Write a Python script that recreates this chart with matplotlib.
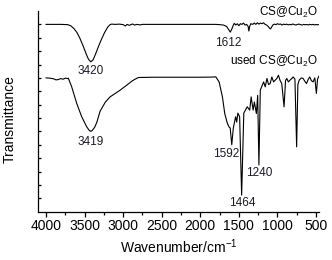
import matplotlib
matplotlib.use("Agg")
import matplotlib.pyplot as plt
from matplotlib.ticker import MultipleLocator, NullFormatter

plt.rcParams['font.family'] = ['Liberation Sans', 'DejaVu Sans']
plt.rcParams['mathtext.fontset'] = 'custom'
plt.rcParams['mathtext.rm'] = 'Liberation Sans'
plt.rcParams['mathtext.it'] = 'Liberation Sans'
plt.rcParams['mathtext.default'] = 'regular'

# CS@Cu2O spectrum (wavenumber, transmittance in arbitrary units)
cs_wn = [4000, 3800, 3720, 3680, 3640, 3600, 3560, 3520, 3480, 3450, 3420, 3390, 3360,
         3320, 3280, 3240, 3200, 3170, 3150, 3100, 3050, 3000, 2970, 2950, 2920, 2880,
         2850, 2820, 2780, 2750, 2600, 2400, 2200, 2000, 1800, 1750, 1700, 1660, 1630,
         1612, 1595, 1575, 1560, 1540, 1520, 1500, 1480, 1460, 1440, 1420, 1400, 1380,
         1370, 1360, 1345, 1320, 1300, 1280, 1260, 1240, 1220, 1200, 1180, 1160, 1140,
         1120, 1100, 1090, 1075, 1060, 1040, 1020, 1000, 980, 960, 940, 920, 900, 880,
         860, 840, 820, 800, 780, 760, 740, 720, 700, 680, 660, 640, 620, 600, 580, 560,
         540, 520, 500, 480, 462]
cs_t = [14.0, 14.0, 13.98, 13.9, 13.7, 13.4, 12.95, 12.4, 11.8, 11.4, 11.2, 11.35, 11.75,
        12.35, 12.9, 13.4, 13.8, 13.98, 14.02, 14.0, 14.02, 13.98, 13.88, 14.0, 13.93, 14.03,
        13.95, 14.0, 13.96, 14.0, 14.0, 14.0, 14.0, 14.0, 14.0, 13.98, 13.95, 13.85, 13.6,
        13.42, 13.6, 13.9, 14.08, 13.95, 14.05, 13.9, 14.05, 14.0, 14.1, 13.95, 14.0, 13.85,
        13.5, 13.85, 14.05, 14.0, 14.1, 14.0, 14.12, 14.02, 14.1, 14.05, 14.12, 14.0, 13.95,
        13.85, 13.7, 13.66, 13.8, 13.95, 14.02, 13.98, 14.05, 14.0, 14.03, 13.95, 14.02, 13.98, 14.02,
        13.96, 14.0, 13.97, 14.03, 13.98, 13.95, 14.0, 14.02, 13.98, 13.95, 14.0, 13.97, 13.99, 13.96, 14.0, 13.97,
        14.0, 13.96, 13.99, 13.97, 13.98]

# used CS@Cu2O spectrum
used_wn = [4000, 3950, 3900, 3870, 3840, 3810, 3780, 3750, 3720, 3711, 3667, 3602, 3537,
           3472, 3440, 3419, 3400, 3370, 3340, 3300, 3230, 3170, 3100, 3040, 2990, 2953,
           2900, 2868, 2830, 2800, 2600, 2400, 2200, 2000, 1850, 1799, 1756, 1713, 1683,
           1649, 1628, 1612, 1592, 1572, 1542, 1528, 1513, 1490, 1464, 1436, 1392, 1359,
           1341, 1315, 1299, 1273, 1256, 1240, 1222, 1200, 1179, 1158, 1136, 1115, 1094,
           1072, 1050, 1029, 1008, 987, 965, 944, 914, 895, 879, 858, 837, 815, 795, 773,
           751, 735, 718, 690, 667, 645, 623, 600, 581, 560, 538, 515, 495, 480, 462]
used_t = [10.0, 9.98, 9.93, 9.85, 9.88, 9.95, 9.9, 9.98, 9.95, 9.98, 9.33, 8.09, 7.09,
          6.34, 6.08, 6.0, 6.08, 6.3, 6.7, 7.5, 8.2, 8.58, 8.85, 9.08, 9.3, 9.46,
          9.7, 9.83, 9.95, 10.03, 10.05, 10.05, 10.05, 10.05, 10.06, 10.08, 9.7, 8.58, 7.34,
          6.6, 6.34, 6.25, 5.0, 6.25, 7.1, 6.7, 7.37, 7.1, 1.24, 7.37, 7.84, 7.59,
          8.58, 7.59, 8.2, 7.34, 8.7, 3.49, 9.08, 9.4, 9.7, 9.33, 9.96, 9.5, 9.58,
          10.07, 9.7, 9.83, 9.95, 10.2, 9.8, 9.58, 7.84, 9.8, 9.96, 9.7, 9.83, 9.95, 10.07, 9.9,
          4.85, 9.5, 9.83, 10.0, 9.96, 9.75, 9.58, 9.9, 10.07, 9.8, 9.7, 10.0, 8.84, 9.9, 10.13]

# peak labels: (text, x, y)
peak_labels = [("3420", 3420, 10.5), ("3419", 3420, 5.22), ("1612", 1638, 12.59),
               ("1592", 1664, 4.3), ("1240", 1241, 2.87), ("1464", 1456, 0.63)]
series_names = ["CS@Cu$_2$O", "used CS@Cu$_2$O"]
x_ticks = [4000, 3500, 3000, 2500, 2000, 1500, 1000, 500]

fig = plt.figure(figsize=(3.32, 2.60), dpi=100)
ax = fig.add_axes([38/332, 1 - 211.7/260, (319 - 38)/332, (211.7 - 11)/260])

ax.plot(cs_wn, cs_t, color='black', lw=0.8)
ax.plot(used_wn, used_t, color='black', lw=0.8)

ax.set_xlim(4104, 461)
ax.set_ylim(0, 15)

for s in ['top', 'right']:
    ax.spines[s].set_visible(False)
for s in ['left', 'bottom']:
    ax.spines[s].set_linewidth(0.9)

ax.set_xticks(x_ticks)
ax.set_xticklabels([str(t) for t in x_ticks], fontsize=10)
ax.xaxis.set_minor_locator(MultipleLocator(250))
ax.tick_params(axis='x', which='major', direction='out', length=3.5, width=0.9, pad=2)
ax.tick_params(axis='x', which='minor', direction='out', length=2.5, width=0.9)

ax.set_yticks([i for i in range(1, 15)])
ax.yaxis.set_major_formatter(NullFormatter())
ax.tick_params(axis='y', which='major', direction='in', length=2.5, width=0.9)

ax.set_xlabel("Wavenumber/cm$^{-1}$", fontsize=10, labelpad=3)
fig.text(10/332, 1 - 119/260, "Transmittance", rotation=90, fontsize=10,
         ha='center', va='center')

for txt, x, y in peak_labels:
    ax.text(x, y, txt, fontsize=8.5, ha='center', va='center', color='#1a1a2e')

ax.text(479, 14.9, series_names[0], fontsize=8.5, ha='right', va='center')
ax.text(479, 11.25, series_names[1], fontsize=8.5, ha='right', va='center')

fig.savefig("out.png", dpi=100)
